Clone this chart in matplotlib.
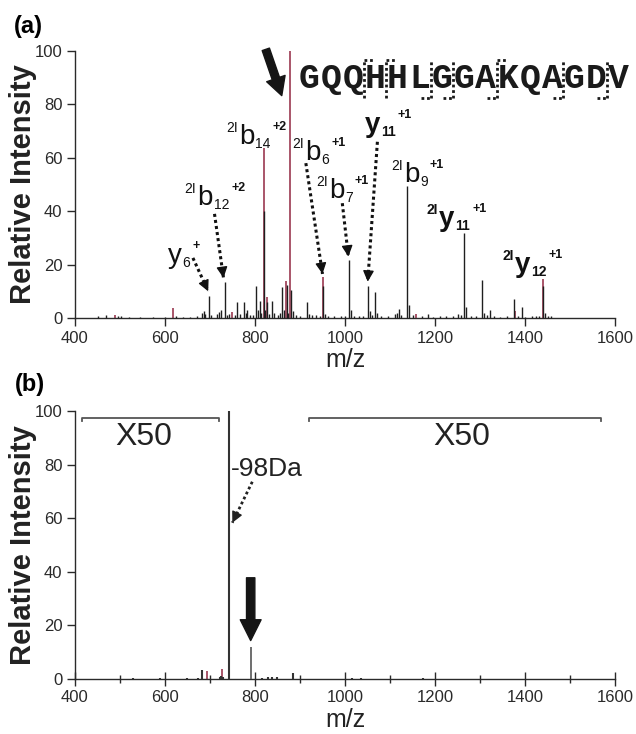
import matplotlib
matplotlib.use("Agg")
import matplotlib.pyplot as plt
import matplotlib.transforms as mtransforms
from matplotlib.patches import FancyArrowPatch
import numpy as np

plt.rcParams['font.family'] = ['Liberation Sans', 'DejaVu Sans']

# ---------------- panel (a): MS/MS spectrum ----------------
mz_a_black = [452, 470, 495, 502, 520, 545, 573, 600, 625, 640, 655, 672, 682, 686, 690,
              698, 703, 716, 720, 724, 733, 738, 742, 755, 761, 767, 775, 779, 783, 790,
              796, 802, 806, 810, 814, 819, 823, 827, 832, 838, 843, 850, 856, 860, 864,
              870, 874, 880, 884, 890, 900, 915, 920, 927, 935, 945, 952, 955, 962, 975,
              990, 1000, 1009, 1013, 1020, 1030, 1040, 1052, 1055, 1060, 1066, 1070, 1080,
              1095, 1110, 1115, 1120, 1125, 1138, 1142, 1150, 1170, 1185, 1195, 1210, 1225,
              1240, 1250, 1258, 1265, 1269, 1280, 1290, 1304, 1308, 1316, 1323, 1330, 1345,
              1360, 1375, 1384, 1393, 1400, 1415, 1425, 1432, 1440, 1444, 1450, 1458]
int_a_black = [0.8, 1.0, 0.9, 0.7, 0.4, 0.5, 0.4, 0.5, 0.6, 0.5, 0.4, 0.8, 2.0, 2.5, 1.5,
               8.2, 1.0, 1.5, 2.2, 3.0, 13.5, 1.2, 1.5, 1.0, 6.1, 1.5, 6.1, 2.0, 3.0, 1.0,
               1.2, 12.1, 3.0, 6.4, 2.0, 40.0, 3.0, 6.0, 1.5, 6.2, 2.0, 1.0, 2.0, 11.5, 3.0,
               12.5, 2.0, 10.5, 2.5, 1.0, 0.8, 5.9, 1.5, 1.0, 1.0, 0.8, 12.0, 1.5, 0.8, 0.6,
               0.6, 0.8, 21.8, 3.0, 0.6, 0.6, 0.8, 12.0, 2.5, 1.0, 9.7, 2.0, 0.8,
               0.8, 1.5, 2.0, 3.5, 1.0, 49.6, 5.0, 1.0, 0.8, 1.5, 0.5, 0.6, 0.6,
               0.8, 1.5, 1.0, 32.0, 4.0, 0.8, 0.8, 14.1, 2.0, 1.0, 3.1, 0.6, 0.5,
               0.6, 7.0, 0.6, 4.2, 0.5, 0.8, 0.6, 0.8, 12.0, 2.0, 0.8, 0.6]
mz_a_red = [489, 617, 748, 819, 827, 868, 878, 952, 1158, 1378, 1440]
int_a_red = [1.3, 3.9, 2.2, 63.7, 7.9, 14.0, 100.0, 15.2, 1.5, 2.5, 14.5]

peptide = "GQQHHLGGAKQAGDV"
y_ion_sites = [3, 4, 9]            # cleavage sites marked above the sequence
b_ion_sites = [6, 7, 9, 12, 14]    # cleavage sites marked below the sequence

# ion labels: (prefix, letter, subscript, superscript, bold, m/z, intensity)
ion_labels = [
    ("",   "y", "6",  "+",  False, 606, 20.6),
    ("2I", "b", "12", "+2", False, 672, 42.5),
    ("2I", "b", "14", "+2", False, 764, 65.0),
    ("2I", "b", "6",  "+1", False, 911, 59.0),
    ("2I", "b", "7",  "+1", False, 964, 45.0),
    ("",   "y", "11", "+1", True, 1044, 69.5),
    ("2I", "b", "9",  "+1", False, 1131, 51.0),
    ("2I", "y", "11", "+1", True, 1209, 34.5),
    ("2I", "y", "12", "+1", True, 1378, 17.2),
]
# dotted pointers: (start m/z, start intensity, end m/z, end intensity)
pointers_a = [
    (662, 22.5, 696, 10.0),
    (710, 39.0, 730, 15.0),
    (913, 58.0, 950, 16.5),
    (994, 43.0, 1007.5, 23.0),
    (1072, 66.0, 1050.5, 13.6),
]

# ---------------- panel (b): neutral-loss spectrum ----------------
mz_b_black = [528, 589, 648, 673, 681.5, 722, 725, 730, 741.5, 815, 829, 838, 849, 885, 1015, 1035, 1173]
int_b_black = [0.4, 0.4, 0.5, 0.5, 3.5, 0.8, 1.0, 0.8, 100.0, 0.5, 0.6, 0.6, 0.6, 2.2, 0.5, 0.5, 0.4]
mz_b_red = [692.6, 727.4]
int_b_red = [2.9, 3.9]
mz_b_gray = [790.4]
int_b_gray = [11.8]
zoom_ranges = [(415, 720), (920, 1569)]
zoom_label_x = [553, 1260]
zoom_text = "X50"

BLACK = "#1f1f1f"
RED = "#a3485e"
AXC = "#2a2a2a"

fig = plt.figure(figsize=(6.36, 7.34), dpi=100)
ax_a = fig.add_axes([75 / 636, 1 - 318 / 734, 540 / 636, 267 / 734])
ax_b = fig.add_axes([75 / 636, 1 - 679 / 734, 540 / 636, 268 / 734])


def style_axes(ax, minor=False):
    ax.set_xlim(400, 1600)
    ax.set_ylim(0, 100)
    ax.set_xticks([400, 600, 800, 1000, 1200, 1400, 1600])
    ax.set_yticks([0, 20, 40, 60, 80, 100])
    for s in ("top", "right"):
        ax.spines[s].set_visible(False)
    for s in ("left", "bottom"):
        ax.spines[s].set_color(AXC)
        ax.spines[s].set_linewidth(1.0)
    ax.tick_params(axis="both", labelsize=12, colors=AXC, width=1.0, pad=3)
    ax.tick_params(axis="y", length=6, direction="out")
    if minor:
        ax.set_xticks([500, 700, 900, 1100, 1300, 1500], minor=True)
        ax.tick_params(axis="x", which="major", direction="inout", length=10)
        ax.tick_params(axis="x", which="minor", direction="inout", length=6, width=1.0, colors=AXC)
    else:
        ax.tick_params(axis="x", length=6, direction="out")
    ax.set_ylabel("Relative Intensity", fontsize=21, fontweight="bold", va="center", color="#222222")
    ax.yaxis.set_label_coords(-0.097, 0.5)
    ax.set_xlabel("m/z", fontsize=18, va="center", color="#222222")


style_axes(ax_a)
style_axes(ax_b, minor=True)
ax_a.xaxis.set_label_coords(0.5, -0.158)
ax_b.xaxis.set_label_coords(0.5, -0.152)

# spectrum sticks
ax_a.vlines(mz_a_red, 0, int_a_red, color=RED, lw=1.3, clip_on=False, zorder=2)
ax_a.vlines(mz_a_black, 0, int_a_black, color=BLACK, lw=1.0, clip_on=False, zorder=3)

ax_b.vlines(mz_b_red, 0, int_b_red, color=RED, lw=1.3, zorder=2)
ax_b.vlines(mz_b_black, 0, int_b_black, color="#333333", lw=1.5, clip_on=False, zorder=3)
ax_b.vlines(mz_b_gray, 0, int_b_gray, color="#555555", lw=1.2, zorder=3)

fig.text(28 / 636, 1 - 26 / 734, "(a)", fontsize=17, fontweight="bold", ha="center", va="center")
fig.text(30 / 636, 1 - 385 / 734, "(b)", fontsize=17, fontweight="bold", ha="center", va="center")

renderer = fig.canvas.get_renderer()


def ion_label(ax, pre, main, sub, sup, bold, x, y, size=20):
    w = "bold" if bold else "normal"
    t = ax.text(x, y, main, fontsize=size, fontweight=w, ha="left", va="baseline", color="#111111")
    width = t.get_window_extent(renderer).width

    def piece(s, dx, dy, fs, ha, wt):
        tr = mtransforms.offset_copy(ax.transData, fig=fig, x=dx, y=dy, units="dots")
        return ax.text(x, y, s, transform=tr, fontsize=fs, fontweight=wt, ha=ha,
                       va="baseline", color="#111111")

    if pre:
        piece(pre, -1, 12, 10, "right", w)
    ts = piece(sub, width + 1, -4, 10, "left", w)
    sw = ts.get_window_extent(renderer).width
    piece(sup, width + sw + 3, 14, 9, "left", "bold")


def dotted_pointer(ax, x0, y0, x1, y1, lw=2.2, color="#111111", head=9.0):
    """Dotted shaft drawn as a line, finished with a small solid arrow head."""
    ax.plot([x0, x1], [y0, y1], color=color, lw=lw, linestyle=(0, (1, 1)),
            solid_capstyle="butt", dash_capstyle="butt", clip_on=False)
    p0 = ax.transData.transform((x0, y0))
    p1 = ax.transData.transform((x1, y1))
    d = (p1 - p0) / np.hypot(*(p1 - p0))
    pb = ax.transData.inverted().transform(p1 - d * head)
    ax.annotate("", xy=(x1, y1), xytext=tuple(pb),
                arrowprops=dict(arrowstyle="-|>,head_length=0.6,head_width=0.3",
                                lw=1.0, color=color, shrinkA=0, shrinkB=0,
                                mutation_scale=11))


for pre, main, sub, sup, bold, x, y in ion_labels:
    ion_label(ax_a, pre, main, sub, sup, bold, x, y)

for x0, y0, x1, y1 in pointers_a:
    dotted_pointer(ax_a, x0, y0, x1, y1)

# peptide sequence with cleavage markers
seq_left = 895.6
pitch = 49.1
seq_y = 89.6
for i, aa in enumerate(peptide):
    ax_a.text(seq_left + pitch * (i + 0.5), seq_y, aa, fontsize=25, fontweight="bold",
              family="Liberation Mono", ha="center", va="center", color="#1a1a1a", clip_on=False)

dot_kw = dict(color="#1a1a1a", lw=2.0, linestyle=(0, (1, 1)), clip_on=False)
top, bot, hook = 96.6, 82.4, 22
for k in sorted(set(y_ion_sites + b_ion_sites)):
    xb = seq_left + pitch * k
    ax_a.plot([xb, xb], [bot, top], **dot_kw)
for k in y_ion_sites:
    xb = seq_left + pitch * k
    ax_a.plot([xb, xb + hook], [top, top], **dot_kw)
for k in b_ion_sites:
    xb = seq_left + pitch * k
    ax_a.plot([xb - hook, xb], [bot, bot], **dot_kw)

# precursor arrow
ax_a.add_patch(FancyArrowPatch((822, 101.6), (861.5, 82.3),
                               arrowstyle="simple,head_length=13,head_width=14,tail_width=5.5",
                               mutation_scale=1, color="#151515", clip_on=False, zorder=5))

# panel (b) annotations
for (lo, hi), xt in zip(zoom_ranges, zoom_label_x):
    ax_b.plot([lo, lo, hi, hi], [96.2, 97.5, 97.5, 96.2], color="#555555", lw=1.3)
    ax_b.text(xt, 90.3, zoom_text, fontsize=23, ha="center", va="center", color="#222222")

ax_b.text(746, 78.5, "-98Da", fontsize=19, ha="left", va="center", color="#222222")
dotted_pointer(ax_b, 794, 73.6, 749.6, 58.3, lw=2.0, color="#222222", head=7.0)
ax_b.add_patch(FancyArrowPatch((790.4, 38.8), (790.4, 13.3),
                               arrowstyle="simple,head_length=15,head_width=15,tail_width=6",
                               mutation_scale=1, color="#151515", zorder=5))

fig.savefig("out.png", dpi=100)
